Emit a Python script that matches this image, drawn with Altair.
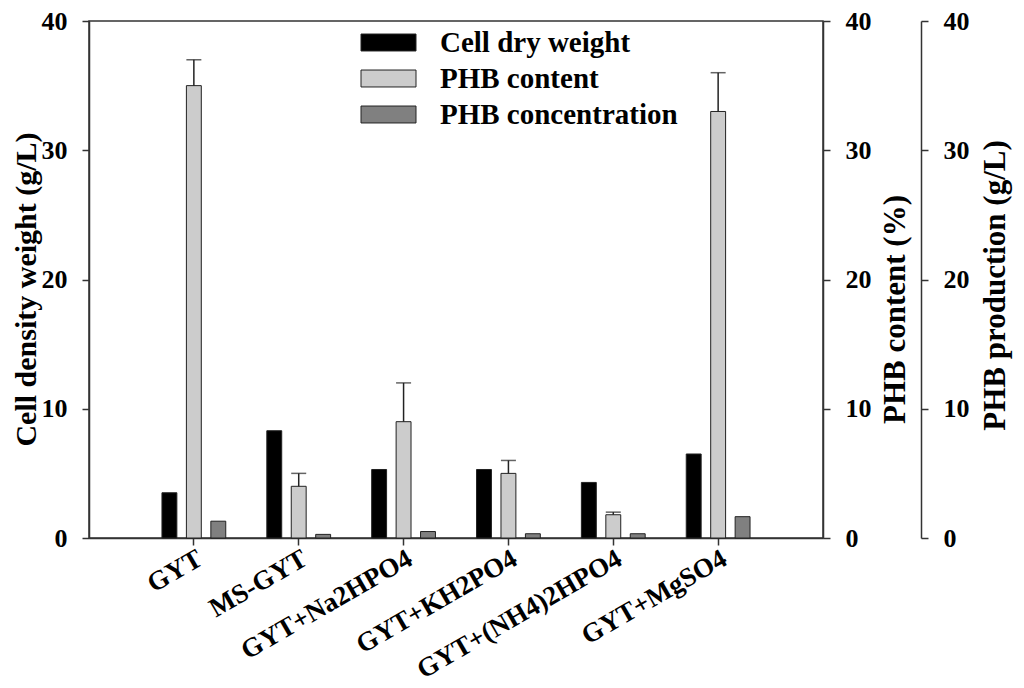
import altair as alt
import pandas as pd

categories = ["GYT", "MS-GYT", "GYT+Na2HPO4", "GYT+KH2PO4", "GYT+(NH4)2HPO4", "GYT+MgSO4"]
series_names = ["Cell dry weight", "PHB content", "PHB concentration"]
cdw = [3.5, 8.3, 5.3, 5.3, 4.3, 6.5]
phb_content = [35.0, 4.0, 9.0, 5.0, 1.8, 33.0]
phb_content_err = [2.0, 1.0, 3.0, 1.0, 0.2, 3.0]
phb_conc = [1.3, 0.28, 0.5, 0.33, 0.33, 1.65]
y_ticks = [0, 10, 20, 30, 40]
fills = ["#000000", "#cccccc", "#808080"]

rows = []
for i, c in enumerate(categories):
    rows.append({"cat": c, "series": series_names[0], "value": cdw[i], "upper": cdw[i]})
    rows.append({"cat": c, "series": series_names[1], "value": phb_content[i],
                 "upper": phb_content[i] + phb_content_err[i]})
    rows.append({"cat": c, "series": series_names[2], "value": phb_conc[i], "upper": phb_conc[i]})
df = pd.DataFrame(rows)

FONT = "Liberation Serif"
AX = "#333333"

x_enc = alt.X("cat:N", sort=categories,
              scale=alt.Scale(paddingInner=0, paddingOuter=0.5),
              axis=alt.Axis(title=None, labelAngle=-30, labelAlign="right", labelBaseline="top",
                            labelFont=FONT, labelFontSize=27, labelFontWeight="bold", labelColor="black",
                            tickSize=7, tickColor=AX, tickWidth=1.5, domainColor=AX, domainWidth=1.5,
                            labelPadding=0, labelLimit=400, labelOverlap=False))
xo_enc = alt.XOffset("series:N", sort=series_names,
                     scale=alt.Scale(domain=series_names, paddingInner=0.39, paddingOuter=0.84))
fill_enc = alt.Fill("series:N", sort=series_names,
                    scale=alt.Scale(domain=series_names, range=fills),
                    legend=alt.Legend(title=None, orient="none", legendX=285, legendY=7,
                                      symbolType="M-2.5,-0.77L2.5,-0.77L2.5,0.77L-2.5,0.77Z",
                                      symbolSize=484, symbolStrokeColor="#222222",
                                      symbolStrokeWidth=1, labelFont=FONT, labelFontSize=29,
                                      labelFontWeight="bold", labelColor="black",
                                      labelOffset=37, rowPadding=6, labelLimit=400))

def yaxis(title, orient, title_y, offset=0):
    kw = dict(title=title, orient=orient, values=y_ticks, grid=False,
              labelFont=FONT, labelFontSize=26, labelFontWeight="bold", labelColor="black",
              titleFont=FONT, titleFontWeight="bold", titleColor="black", titleFontSize=31,
              tickSize=7, tickColor=AX, tickWidth=1.5, domainColor=AX, domainWidth=1.5,
              labelPadding=15, titleY=title_y)
    if orient == "left":
        kw["titlePadding"] = 0
        kw["titleFontSize"] = 30
    else:
        kw["titleAngle"] = 270
        kw["titleBaseline"] = "top"
        kw["titlePadding"] = 9 if not offset else 11
    if offset:
        kw["offset"] = offset
    return alt.Axis(**kw)

yscale = alt.Scale(domain=[0, 40], nice=False)
base = alt.Chart(df)

layer_cdw = base.transform_filter(alt.datum.series == series_names[0]).mark_bar(
    stroke="#222222", strokeWidth=1).encode(
    x=x_enc, xOffset=xo_enc, fill=fill_enc,
    y=alt.Y("value:Q", scale=yscale, axis=yaxis("Cell density weight (g/L)", "left", 268)))

content_base = base.transform_filter(alt.datum.series == series_names[1])
content_bars = content_base.mark_bar(stroke="#222222", strokeWidth=1).encode(
    x=x_enc, xOffset=xo_enc, fill=fill_enc,
    y=alt.Y("value:Q", scale=yscale, axis=yaxis("PHB content (%)", "right", 288)))
content_err = content_base.mark_rule(color="#222222", strokeWidth=1.5).encode(
    x=x_enc, xOffset=xo_enc, y=alt.Y("value:Q"), y2=alt.Y2("upper:Q"))
content_cap = content_base.mark_tick(color="#222222", thickness=1.5, size=15, orient="horizontal").encode(
    x=x_enc, xOffset=xo_enc, y=alt.Y("upper:Q"))
layer_content = alt.layer(content_bars, content_err, content_cap)

layer_conc = base.transform_filter(alt.datum.series == series_names[2]).mark_bar(
    stroke="#222222", strokeWidth=1).encode(
    x=x_enc, xOffset=xo_enc, fill=fill_enc,
    y=alt.Y("value:Q", scale=yscale, axis=yaxis("PHB production (g/L)", "right", 264, offset=98)))

chart = alt.layer(layer_cdw, layer_content, layer_conc).resolve_scale(
    y="independent").properties(
    width=734, height=517,
    autosize=alt.AutoSizeParams(type="none"),
    padding={"left": 81, "top": 13, "right": 193, "bottom": 142},
    background="white",
).configure_view(stroke=AX, strokeWidth=1.5)

chart.save("out.html", embed_options={"renderer": "svg", "actions": False})
